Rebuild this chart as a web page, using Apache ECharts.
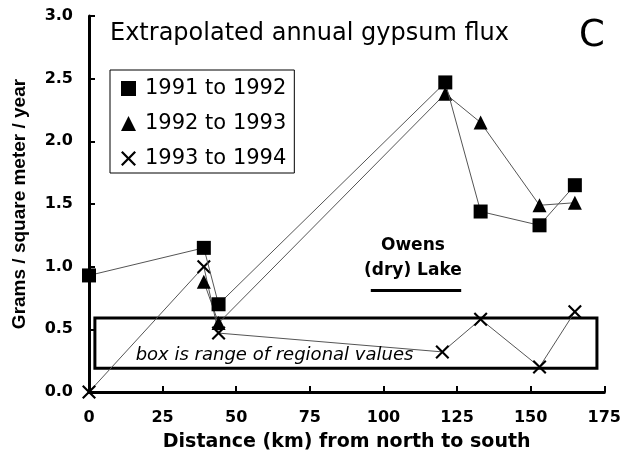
<!DOCTYPE html>
<html>
<head>
<meta charset="utf-8">
<script src="https://cdn.jsdelivr.net/npm/echarts@6/dist/echarts.min.js"></script>
<style>html,body{margin:0;padding:0;background:#fff}#c{width:624px;height:458px}</style>
</head>
<body>
<div id="c"></div>
<script>
var seriesNames = ['1991 to 1992', '1992 to 1993', '1993 to 1994'];
var dist91 = [0, 39, 44, 121, 133, 153, 165];
var flux91 = [0.93, 1.15, 0.70, 2.47, 1.44, 1.33, 1.65];
var dist92 = [39, 44, 121, 133, 153, 165];
var flux92 = [0.88, 0.55, 2.38, 2.15, 1.49, 1.51];
var dist93 = [0, 39, 44, 120, 133, 153, 165];
var flux93 = [0.00, 1.00, 0.47, 0.32, 0.58, 0.20, 0.64];
var regionalBox = { kmFrom: 2, kmTo: 172.5, low: 0.19, high: 0.59 };
var lakeSpan = { kmFrom: 95.7, kmTo: 126.4, level: 0.81 };
var xTicks = { min: 0, max: 175, step: 25 };
var yTicks = { min: 0, max: 3, step: 0.5 };

var WIDE = "'DejaVu Sans', 'Liberation Sans', sans-serif";
var ARIAL = "'Liberation Sans', Arial, sans-serif";
var crossPath = 'path://M0,1.5 L1.5,0 L7,5.5 L12.5,0 L14,1.5 L8.5,7 L14,12.5 L12.5,14 L7,8.5 L1.5,14 L0,12.5 L5.5,7 Z';

function pairs(xs, ys) { return xs.map(function (x, i) { return [x, ys[i]]; }); }

var lineStyle = { color: '#555', width: 1 };

var chart = echarts.init(document.getElementById('c'), null, { renderer: 'canvas' });
chart.setOption({
  animation: false,
  backgroundColor: '#fff',
  title: [
    { text: 'Extrapolated annual gypsum flux', left: 110, top: 22, padding: 0,
      textStyle: { fontFamily: WIDE, fontSize: 24, fontWeight: 'normal', color: '#000' } },
    { text: 'C', left: 579, top: 18, padding: 0,
      textStyle: { fontFamily: WIDE, fontSize: 37, fontWeight: 'normal', color: '#000' } }
  ],
  legend: {
    orient: 'vertical', left: 110, top: 70,
    data: [
      { name: seriesNames[0], icon: 'rect' },
      { name: seriesNames[1], icon: 'triangle' },
      { name: seriesNames[2], icon: crossPath }
    ],
    itemWidth: 15, itemHeight: 15, itemGap: 14,
    padding: [8, 8, 4, 11],
    borderColor: '#000', borderWidth: 1,
    textStyle: { fontFamily: WIDE, fontSize: 21, lineHeight: 21, color: '#000', padding: [0, 0, 0, 4] },
    itemStyle: { color: '#000' }
  },
  grid: { left: 89, right: 18, top: 16, bottom: 66 },
  xAxis: {
    type: 'value', min: xTicks.min, max: xTicks.max, interval: xTicks.step,
    name: 'Distance (km) from north to south', nameLocation: 'middle', nameGap: 41,
    nameTextStyle: { fontFamily: WIDE, fontSize: 19, fontWeight: 'bold', color: '#000' },
    axisLine: { lineStyle: { color: '#000', width: 3 } },
    axisTick: { inside: true, length: 6, lineStyle: { color: '#000', width: 2 } },
    axisLabel: { margin: 18, fontFamily: WIDE, fontSize: 16, fontWeight: 'bold', color: '#000' },
    splitLine: { show: false }
  },
  yAxis: {
    type: 'value', min: yTicks.min, max: yTicks.max, interval: yTicks.step,
    name: 'Grams / square meter / year', nameLocation: 'middle', nameGap: 60,
    nameTextStyle: { fontFamily: ARIAL, fontSize: 19, fontWeight: 'bold', color: '#000' },
    axisLine: { lineStyle: { color: '#000', width: 3 } },
    axisTick: { inside: true, length: 6, lineStyle: { color: '#000', width: 2 } },
    axisLabel: { margin: 16, fontFamily: WIDE, fontSize: 16, fontWeight: 'bold', color: '#000',
      formatter: function (v) { return v.toFixed(1); } },
    splitLine: { show: false }
  },
  series: [
    {
      name: seriesNames[0], type: 'line', data: pairs(dist91, flux91),
      symbol: 'rect', symbolSize: 14, itemStyle: { color: '#000' }, lineStyle: lineStyle,
      z: 5,
      markArea: {
        silent: true,
        itemStyle: { color: 'rgba(0,0,0,0)', borderColor: '#000', borderWidth: 3 },
        label: { show: false },
        data: [[{ coord: [regionalBox.kmFrom, regionalBox.high] }, { coord: [regionalBox.kmTo, regionalBox.low] }]]
      },
      markLine: {
        silent: true, symbol: 'none',
        lineStyle: { color: '#000', width: 3, type: 'solid' },
        label: { show: false },
        data: [[{ coord: [lakeSpan.kmFrom, lakeSpan.level] }, { coord: [lakeSpan.kmTo, lakeSpan.level] }]]
      },
      markPoint: {
        silent: true, symbol: 'circle', symbolSize: 0,
        data: [
          { coord: [110, 1.17], label: { show: true, formatter: 'Owens', position: 'inside',
              fontFamily: WIDE, fontSize: 17, fontWeight: 'bold', color: '#000' } },
          { coord: [110, 0.97], label: { show: true, formatter: '(dry) Lake', position: 'inside',
              fontFamily: WIDE, fontSize: 17, fontWeight: 'bold', color: '#000' } },
          { coord: [63, 0.295], label: { show: true, formatter: 'box is range of regional values', position: 'inside',
              fontFamily: WIDE, fontSize: 18, fontStyle: 'italic', color: '#000' } }
        ]
      }
    },
    {
      name: seriesNames[1], type: 'line', data: pairs(dist92, flux92),
      symbol: 'triangle', symbolSize: 14, itemStyle: { color: '#000' }, lineStyle: lineStyle, z: 4
    },
    {
      name: seriesNames[2], type: 'line', data: pairs(dist93, flux93),
      symbol: crossPath, symbolSize: 14, itemStyle: { color: '#000' }, lineStyle: lineStyle, z: 3
    }
  ]
});
</script>
</body>
</html>
